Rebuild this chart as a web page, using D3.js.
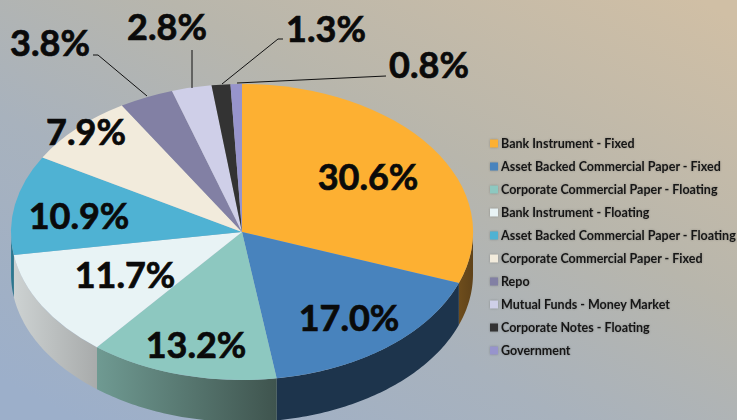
<!DOCTYPE html>
<html><head><meta charset="utf-8">
<script src="https://cdnjs.cloudflare.com/ajax/libs/d3/7.8.5/d3.min.js"></script>
<style>html,body{margin:0;padding:0;overflow:hidden}svg{display:block}
.leg{filter:drop-shadow(0 0 1px rgba(60,60,60,.35))}</style>
</head><body><script>
const categories=["Bank Instrument - Fixed","Asset Backed Commercial Paper - Fixed","Corporate Commercial Paper - Floating","Bank Instrument - Floating","Asset Backed Commercial Paper - Floating","Corporate Commercial Paper - Fixed","Repo","Mutual Funds - Money Market","Corporate Notes - Floating","Government"];
const values=[30.6,17.0,13.2,11.7,10.9,7.9,3.8,2.8,1.3,0.8];
const colors=["#fdb032","#4883bd","#8dc8c0","#e8f3f5","#4fb2d3","#f2ebdc","#8280a4","#cfcfe8","#333333","#9794cc"];
const wallLight=["#6e4d1c","#1d344c","#6f9a92","#cdd2d2","#2f7f98","#8a867c","#4a4960","#77778a","#222222","#55537a"];
const wallDark=["#5f4219","#1d344c","#3f544e","#a8abab","#2a7086","#8a867c","#4a4960","#77778a","#222222","#55537a"];
const labelPos=[[368,176],[349,317],[196,344],[125,274],[79,215],[86,131],[50,42],[167,26],[326,28],[429,64]];
const leaders=[null,null,null,null,null,null,[[93,55],[98,55],[147,96]],[[192,50],[192,88]],[[283,39],[278,39],[222,84]],[[386,76],[237,83]]];
const W=737,H=420,cx=242,cy=232,rx=231,ry=148,depth=42;

const svg=d3.select("body").append("svg").attr("width",W).attr("height",H);
const defs=svg.append("defs");
const bg=defs.append("linearGradient").attr("id","bg").attr("x1","0.05").attr("y1","0.95").attr("x2","0.95").attr("y2","0");
bg.append("stop").attr("offset","0").attr("stop-color","#9cafca");
bg.append("stop").attr("offset","0.35").attr("stop-color","#a8b2bd");
bg.append("stop").attr("offset","0.62").attr("stop-color","#b8b6ac");
bg.append("stop").attr("offset","1").attr("stop-color","#d0bfa5");
svg.append("rect").attr("width",W).attr("height",H).attr("fill","url(#bg)");

const pie=d3.pie().sort(null).value(d=>d)(values);
const px=a=>cx+rx*Math.sin(a), py=a=>cy-ry*Math.cos(a);
const arcPath=d3.arc().innerRadius(0).outerRadius(1);
const walls=svg.append("g");
pie.forEach((s,i)=>{
  const a0=Math.max(s.startAngle,Math.PI/2), a1=Math.min(s.endAngle,Math.PI*1.5);
  if(a1<=a0) return;
  const n=Math.max(2,Math.ceil((a1-a0)*60));
  const as=d3.range(n+1).map(k=>a0+(a1-a0)*k/n);
  const pts=as.map(a=>[px(a),py(a)]).concat(as.slice().reverse().map(a=>[px(a),py(a)+depth]));
  const x0=d3.min(pts,p=>p[0]),x1=d3.max(pts,p=>p[0]);
  const g=defs.append("linearGradient").attr("id","w"+i).attr("gradientUnits","userSpaceOnUse")
    .attr("x1",x0).attr("x2",x1).attr("y1",0).attr("y2",0);
  g.append("stop").attr("offset","0").attr("stop-color",wallLight[i]);
  g.append("stop").attr("offset","1").attr("stop-color",wallDark[i]);
  walls.append("path").attr("d",d3.line()(pts)+"Z").attr("fill",`url(#w${i})`);
});
svg.append("g").attr("transform",`translate(${cx},${cy}) scale(${rx},${ry})`)
  .selectAll("path").data(pie).join("path").attr("d",arcPath).attr("fill",(d,i)=>colors[i]);

svg.append("g").selectAll("path").data(leaders.filter(Boolean)).join("path")
  .attr("d",d3.line()).attr("fill","none").attr("stroke","#111").attr("stroke-width",1);

svg.append("g").selectAll("text").data(values).join("text")
  .attr("x",(d,i)=>labelPos[i][0]).attr("y",(d,i)=>labelPos[i][1])
  .attr("text-anchor","middle").attr("dominant-baseline","central")
  .attr("font-family","Lato, 'Open Sans', sans-serif").attr("font-weight",700).attr("font-size",36)
  .attr("fill","#0a0a0a").attr("stroke","#0a0a0a").attr("stroke-width",0.7)
  .text(d=>d3.format(".1f")(d)+"%");

const legY=d3.scalePoint().domain(categories).range([143.5,350.5]);
const leg=svg.append("g").attr("class","leg").selectAll("g").data(categories).join("g")
  .attr("transform",d=>`translate(490,${legY(d)})`);
leg.append("rect").attr("x",0).attr("y",-4).attr("width",8).attr("height",8).attr("fill",(d,i)=>colors[i]);
leg.append("text").attr("x",11).attr("y",0).attr("dominant-baseline","central")
  .attr("font-family","Lato, sans-serif").attr("font-weight",700).attr("font-size",12.5).attr("fill","#161616").text(d=>d);
</script></body></html>
